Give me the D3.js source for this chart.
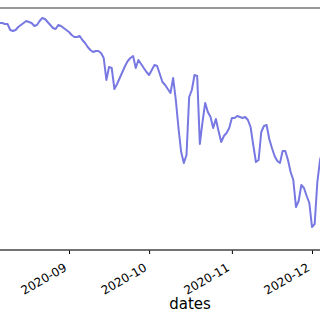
<!DOCTYPE html>
<html><head><meta charset="utf-8">
<script src="https://cdn.jsdelivr.net/npm/d3@7"></script>
<style>html,body{margin:0;padding:0;background:#fff;overflow:hidden}svg{display:block}</style>
</head><body>
<script>
// Series: daily values (arbitrary units)
const dates = [
"2020-08-05","2020-08-06","2020-08-07","2020-08-08","2020-08-09","2020-08-10","2020-08-11","2020-08-12","2020-08-13","2020-08-14",
"2020-08-15","2020-08-16","2020-08-17","2020-08-18","2020-08-19","2020-08-20","2020-08-21","2020-08-22","2020-08-23","2020-08-24",
"2020-08-25","2020-08-26","2020-08-27","2020-08-28","2020-08-29","2020-08-30","2020-08-31","2020-09-01","2020-09-02","2020-09-03",
"2020-09-04","2020-09-05","2020-09-06","2020-09-07","2020-09-08","2020-09-09","2020-09-10","2020-09-11","2020-09-12","2020-09-13",
"2020-09-14","2020-09-15","2020-09-16","2020-09-17","2020-09-18","2020-09-19","2020-09-20","2020-09-21","2020-09-22","2020-09-23",
"2020-09-24","2020-09-25","2020-09-26","2020-09-27","2020-09-28","2020-09-29","2020-09-30","2020-10-01","2020-10-02","2020-10-03",
"2020-10-04","2020-10-05","2020-10-06","2020-10-07","2020-10-08","2020-10-09","2020-10-10","2020-10-11","2020-10-12","2020-10-13",
"2020-10-14","2020-10-15","2020-10-16","2020-10-17","2020-10-18","2020-10-19","2020-10-20","2020-10-21","2020-10-22","2020-10-23",
"2020-10-24","2020-10-25","2020-10-26","2020-10-27","2020-10-28","2020-10-29","2020-10-30","2020-10-31","2020-11-01","2020-11-02",
"2020-11-03","2020-11-04","2020-11-05","2020-11-06","2020-11-07","2020-11-08","2020-11-09","2020-11-10","2020-11-11","2020-11-12",
"2020-11-13","2020-11-14","2020-11-15","2020-11-16","2020-11-17","2020-11-18","2020-11-19","2020-11-20","2020-11-21","2020-11-22",
"2020-11-23","2020-11-24","2020-11-25","2020-11-26","2020-11-27","2020-11-28","2020-11-29","2020-11-30","2020-12-01","2020-12-02",
"2020-12-03","2020-12-04","2020-12-05"
];
const values = [
227,227,227,226,226,220,219,220,223,225,
227,229,228,227,224,225,229,232,231,228,
225,222,221,225,224,222,220,218,215,213,
213,214,210,207,203,200,198,199,199,197,
192,170,183,182,161,166,172,178,184,189,
192,194,182,190,186,182,178,175,180,185,
184,176,168,165,161,157,172,150,122,98,
87,95,153,160,175,174,106,128,147,138,
133,122,131,119,108,114,117,122,132,132,
134,133,132,133,130,123,105,88,90,118,
124,125,111,102,94,89,87,99,99,90,
78,70,43,49,65,62,54,47,23,26,
68,90,100
];
const tickLabels = ["2020-09","2020-10","2020-11","2020-12"];
const xLabel = "dates";

const W = 320, H = 320;
const plotTop = 8, plotBottom = 250;
const parse = d3.utcParse("%Y-%m-%d");
const data = dates.map((d, i) => ({date: parse(d), value: values[i]}));
const tickDates = tickLabels.map(t => d3.utcParse("%Y-%m")(t));

const x = d3.scaleUtc().domain([tickDates[0], tickDates[3]]).range([69, 312]);
const y = d3.scaleLinear().domain([0, 242]).range([plotBottom, plotTop]);

const svg = d3.select("body").append("svg").attr("width", W).attr("height", H);
svg.append("defs").append("clipPath").attr("id", "clip")
  .append("rect").attr("x", -50).attr("y", plotTop).attr("width", W + 100).attr("height", plotBottom - plotTop);

svg.append("path").datum(data)
  .attr("clip-path", "url(#clip)")
  .attr("fill", "none").attr("stroke", "#7878e2").attr("stroke-width", 2)
  .attr("stroke-linejoin", "round")
  .attr("d", d3.line().x(d => x(d.date)).y(d => y(d.value)));

// top spine
svg.append("line").attr("x1", 0).attr("x2", W).attr("y1", plotTop).attr("y2", plotTop)
  .attr("stroke", "#333").attr("stroke-width", 1.2);

// bottom axis
const ax = svg.append("g").attr("transform", `translate(0,${plotBottom})`)
  .call(d3.axisBottom(x).tickValues(tickDates).tickSize(4).tickPadding(2)
    .tickFormat((d, i) => tickLabels[i]));
ax.select(".domain").remove();
ax.append("line").attr("x1", 0).attr("x2", W).attr("stroke", "#444").attr("stroke-width", 1.4);
ax.selectAll(".tick line").attr("stroke", "#000").attr("stroke-width", 1);
ax.selectAll(".tick text")
  .attr("font-family", "DejaVu Sans").attr("font-size", 12).attr("fill", "#000")
  .attr("text-anchor", "end").attr("dy", null).attr("y", null)
  .attr("transform", "translate(-2,20) rotate(-30)");

svg.append("text").attr("x", 190).attr("y", 309).attr("text-anchor", "middle")
  .attr("font-family", "DejaVu Sans").attr("font-size", 15).attr("fill", "#000")
  .text(xLabel);
</script>
</body></html>
